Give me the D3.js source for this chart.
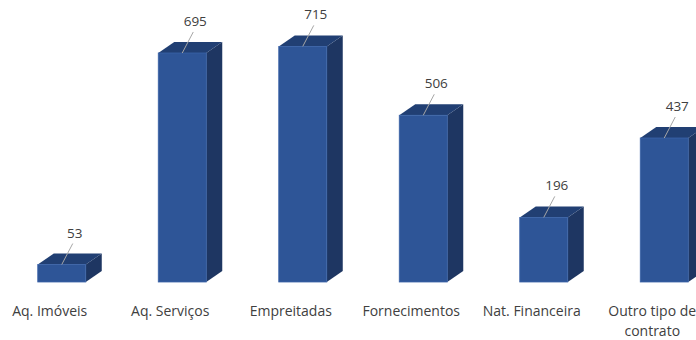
<!DOCTYPE html>
<html>
<head>
<meta charset="utf-8">
<script src="https://cdn.jsdelivr.net/npm/d3@7"></script>
<style>
  html, body { margin: 0; padding: 0; background: #fff; }
  svg { display: block; }
  text { font-family: "Open Sans", "Noto Sans", sans-serif; fill: #404040; }
</style>
</head>
<body>
<svg id="chart" width="696" height="340"></svg>
<script>
// Contract counts per type
const categories = ["Aq. Imóveis", "Aq. Serviços", "Empreitadas", "Fornecimentos", "Nat. Financeira", "Outro tipo de contrato"];
const values = [53, 695, 715, 506, 196, 437];

const width = 696, height = 340;
const svg = d3.select("#chart");

const baseY = 282;
const x = d3.scaleBand().domain(categories).range([-10.5, 712.5]).padding(0);
const y = d3.scaleLinear().domain([0, 715]).range([baseY, baseY - 235.6]);

const barW = 48, depthX = 16, depthY = -11;
const frontColor = "#2E5597", topColor = "#213F73", sideColor = "#1E3662";

const g = svg.append("g");

categories.forEach((c, i) => {
  const v = values[i];
  const cx = x(c) + x.bandwidth() / 2;
  const x0 = cx - 12, x1 = x0 + barW;
  const yt = y(v), yb = y(0);
  const bar = g.append("g");
  // side face
  bar.append("path")
    .attr("d", `M${x1},${yt}L${x1 + depthX},${yt + depthY}L${x1 + depthX},${yb + depthY}L${x1},${yb}Z`)
    .attr("fill", sideColor);
  // top face
  bar.append("path")
    .attr("d", `M${x0},${yt}L${x0 + depthX},${yt + depthY}L${x1 + depthX},${yt + depthY}L${x1},${yt}Z`)
    .attr("fill", topColor);
  // front face
  bar.append("rect")
    .attr("x", x0).attr("y", yt)
    .attr("width", barW).attr("height", yb - yt)
    .attr("fill", frontColor)
    .attr("stroke", "#3A63A8").attr("stroke-width", 0.8);

  // value label with leader line
  const lx0 = x0 + 24, ly0 = yt;
  const lx1 = x0 + 35, ly1 = yt - 21;
  g.append("line")
    .attr("x1", lx0).attr("y1", ly0).attr("x2", lx1).attr("y2", ly1)
    .attr("stroke", "#A6A6A6").attr("stroke-width", 1);
  g.append("text")
    .attr("x", x0 + 37).attr("y", yt - 27)
    .attr("text-anchor", "middle")
    .attr("font-size", 13.5)
    .text(v);
});

// category axis labels (wrapped where needed)
const axisLabels = svg.append("g");
categories.forEach((c) => {
  const cx = x(c) + x.bandwidth() / 2;
  const lines = c === "Outro tipo de contrato" ? ["Outro tipo de", "contrato"] : [c];
  const t = axisLabels.append("text")
    .attr("x", cx).attr("y", 316)
    .attr("text-anchor", "middle")
    .attr("font-size", 14);
  lines.forEach((ln, k) => {
    t.append("tspan").attr("x", cx).attr("dy", k === 0 ? 0 : 20).text(ln);
  });
});
</script>
</body>
</html>
